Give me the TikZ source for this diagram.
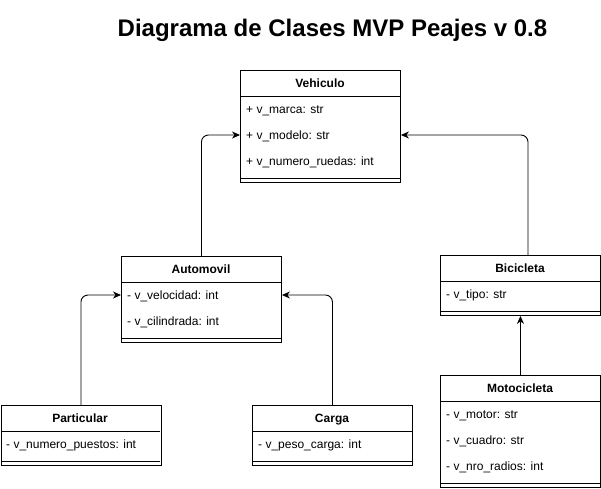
\documentclass[tikz,border=0pt]{standalone}
\usepackage{fontspec}
\setmainfont{Liberation Sans}
\usetikzlibrary{arrows.meta}
\begin{document}
\begin{tikzpicture}[x=1pt,y=-1pt,
  box/.style={draw, line width=0.9pt, minimum width=160pt, inner sep=0pt, anchor=north west},
  hdr/.style={font=\bfseries\fontsize{12}{14}\selectfont, inner sep=0pt, text height=10.9pt, text depth=2.5pt},
  attr/.style={font=\fontsize{12}{14}\selectfont, anchor=west, inner sep=0pt, text height=10.9pt, text depth=2.5pt},
  sep/.style={line width=0.9pt},
  arr/.style={line width=0.9pt, rounded corners=7pt, -{Stealth[length=8pt,width=7pt,inset=2.5pt]}},
  title/.style={font=\bfseries\fontsize{24}{28}\selectfont, inner sep=0pt}
]
\useasboundingbox (0,0) rectangle (601,488);

\node[title] (tt) at (332.5,30) {Diagrama de Clases MVP Peajes v 0.8};

% Vehiculo
\node[box, minimum height=112pt] (veh) at (240,70) {};
\node[hdr] (vehT) at (320,83) {Vehiculo};
\draw[sep] (240,96) -- (400,96);
\node[attr] (veh1) at (246,109) {+ v\_marca: str};
\node[attr] (veh2) at (246,135) {+ v\_modelo: str};
\node[attr] (veh3) at (246,161) {+ v\_numero\_ruedas: int};
\draw[sep] (240,178) -- (400,178);

% Automovil
\node[box, minimum height=86pt] (aut) at (121,256) {};
\node[hdr] (autT) at (201,269) {Automovil};
\draw[sep] (121,282) -- (281,282);
\node[attr] (aut1) at (127,295) {- v\_velocidad: int};
\node[attr] (aut2) at (127,321) {- v\_cilindrada: int};
\draw[sep] (121,338) -- (281,338);

% Bicicleta
\node[box, minimum height=60pt] (bic) at (440,255) {};
\node[hdr] (bicT) at (520,268) {Bicicleta};
\draw[sep] (440,281) -- (600,281);
\node[attr] (bic1) at (446,294) {- v\_tipo: str};
\draw[sep] (440,311) -- (600,311);

% Particular
\node[box, minimum height=60pt] (par) at (0.5,405) {};
\node[hdr] (parT) at (80,418) {Particular};
\draw[sep] (0.5,431) -- (160,431);
\node[attr] (par1) at (6,444) {- v\_numero\_puestos: int};
\draw[sep] (0.5,461) -- (160,461);

% Carga
\node[box, minimum height=60pt] (car) at (252,405) {};
\node[hdr] (carT) at (332,418) {Carga};
\draw[sep] (252,431) -- (412,431);
\node[attr] (car1) at (258,444) {- v\_peso\_carga: int};
\draw[sep] (252,461) -- (412,461);

% Motocicleta
\node[box, minimum height=112pt] (mot) at (440,375) {};
\node[hdr] (motT) at (520,388) {Motocicleta};
\draw[sep] (440,401) -- (600,401);
\node[attr] (mot1) at (446,414) {- v\_motor: str};
\node[attr] (mot2) at (446,440) {- v\_cuadro: str};
\node[attr] (mot3) at (446,466) {- v\_nro\_radios: int};
\draw[sep] (440,483) -- (600,483);

% connectors
\coordinate (bicTop) at (528,255);
\draw[arr] (aut.north) |- (veh2 -| veh.west);
\draw[arr] (bicTop) |- (veh2 -| veh.east);
\draw[arr] (par.north) |- (aut1 -| aut.west);
\draw[arr] (car.north) |- (aut1 -| aut.east);
\draw[arr] (mot.north) -- (bic.south);
\end{tikzpicture}
\end{document}
